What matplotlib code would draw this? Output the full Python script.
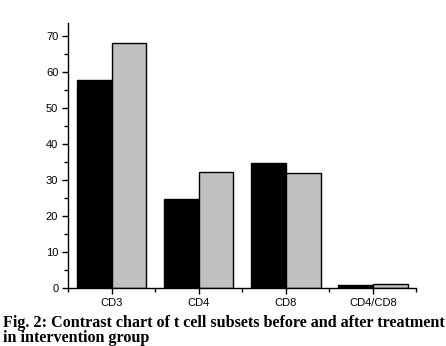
import matplotlib
matplotlib.use('Agg')
import matplotlib.pyplot as plt
import numpy as np

# data
groups = ['CD3', 'CD4', 'CD8', 'CD4/CD8']
before = [57.6, 24.7, 34.6, 0.75]
after = [68.0, 32.3, 32.0, 1.0]

fig = plt.figure(figsize=(4.46, 3.46), dpi=100)
ax = fig.add_axes([0.1525, 0.1676, 0.781, 0.766])

x = np.arange(1, len(groups) + 1)
w = 0.4
ax.bar(x - w/2, before, w, color='black', edgecolor='black', linewidth=1.0)
ax.bar(x + w/2, after, w, color='#c0c0c0', edgecolor='black', linewidth=1.0)

ax.set_xlim(0.5, 4.5)
ax.set_ylim(0, 73.5)
ax.set_xticks(x)
ax.set_xticklabels(groups)
ax.set_xticks(np.arange(0.5, 4.6, 1.0), minor=True)
ax.set_yticks(np.arange(0, 71, 10))
ax.set_yticks(np.arange(5, 71, 10), minor=True)

for s in ['top', 'right']:
	ax.spines[s].set_visible(False)
for s in ['left', 'bottom']:
	ax.spines[s].set_linewidth(1.0)

ax.tick_params(which='major', direction='out', length=4, width=1.0,
	labelsize=8, pad=3)
ax.tick_params(which='minor', direction='out', length=3, width=1.0)
for lab in ax.get_xticklabels() + ax.get_yticklabels():
	lab.set_fontfamily('Liberation Sans')

fig.text(0.007, 0.0558, 'Fig. 2: Contrast chart of t cell subsets before and after treatment',
	fontfamily='Liberation Serif', fontweight='bold', fontsize=11.6)
fig.text(0.007, 0.0116, 'in intervention group',
	fontfamily='Liberation Serif', fontweight='bold', fontsize=11.6)

fig.savefig('out.png', dpi=100)
